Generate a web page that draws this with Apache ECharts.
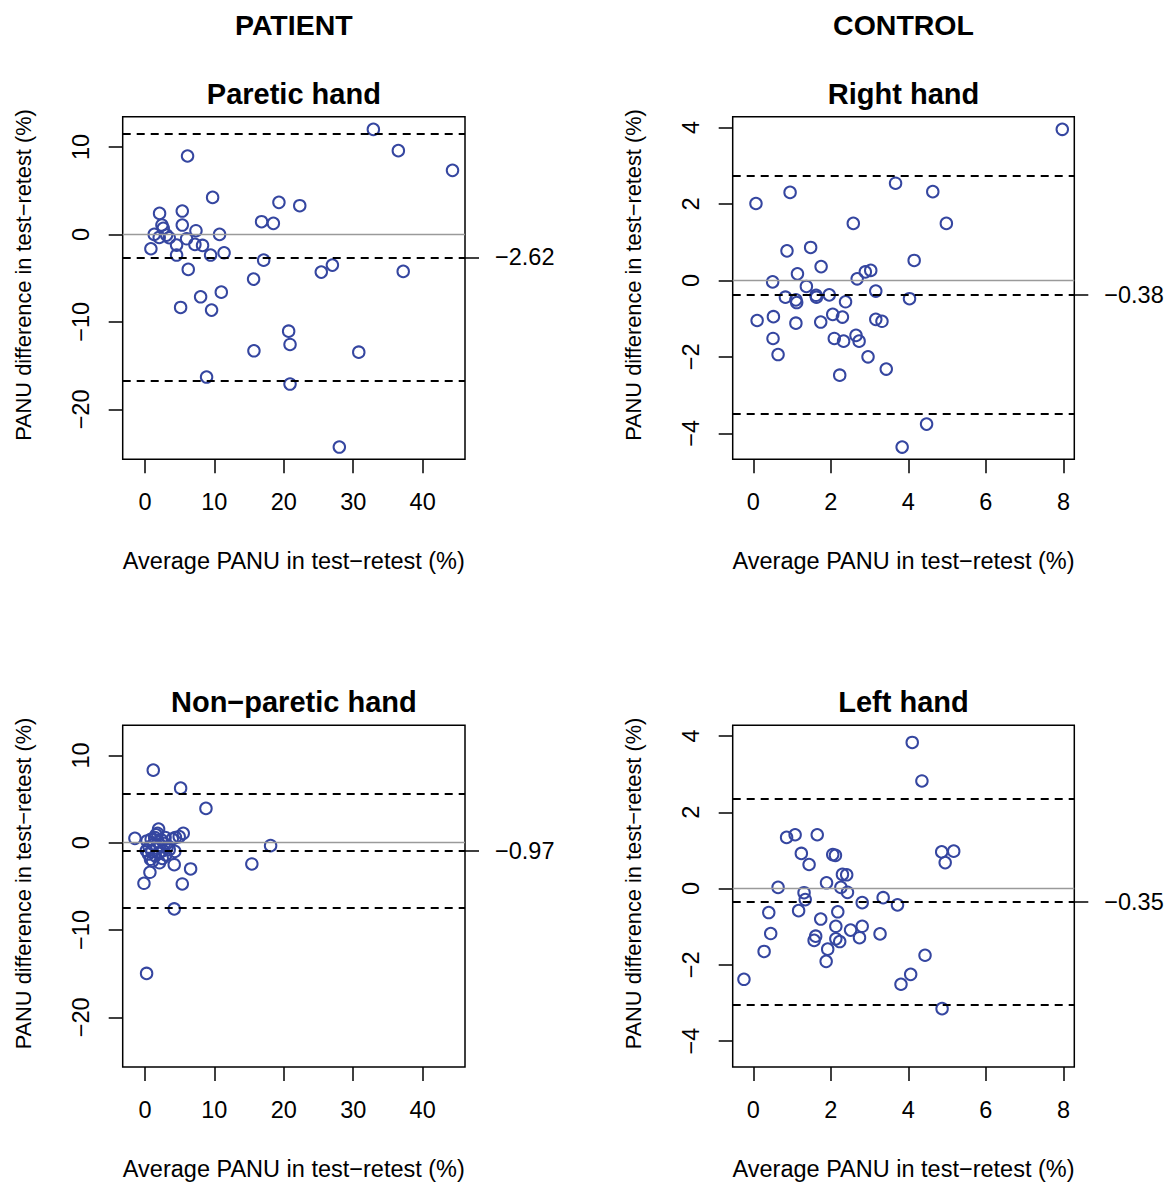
<!DOCTYPE html>
<html>
<head>
<meta charset="utf-8">
<script src="https://cdn.jsdelivr.net/npm/echarts@6/dist/echarts.min.js"></script>
<style>
html,body{margin:0;padding:0;background:#fff;}
#chart{width:1175px;height:1182px;}
</style>
</head>
<body>
<div id="chart"></div>
<script>
// ---------- DATA ----------
const pareticHand = [
  [32.9,12.0],[36.5,9.57],[44.3,7.32],[6.14,8.96],[9.75,4.23],[19.3,3.66],[22.3,3.28],
  [16.8,1.45],[18.5,1.26],[2.11,2.40],[5.38,2.67],[5.38,1.07],[2.45,1.07],[2.64,0.69],
  [7.35,0.42],[1.34,0.0],[2.06,-0.34],[3.12,-0.08],[3.5,-0.38],[6.0,-0.5],[10.75,0.0],
  [0.86,-1.64],[4.56,-1.22],[7.2,-1.14],[8.3,-1.26],[4.56,-2.36],[9.46,-2.36],[11.4,-2.1],
  [17.1,-2.94],[6.24,-4.0],[15.65,-5.11],[25.4,-4.31],[27.0,-3.51],[37.2,-4.23],[11.0,-6.6],
  [8.02,-7.13],[5.14,-8.35],[9.6,-8.65],[20.7,-11.06],[20.9,-12.58],[15.7,-13.3],[30.8,-13.46],
  [8.88,-16.3],[20.9,-17.1],[28.0,-24.3]
];
const nonPareticHand = [
  [1.2,8.31],[5.14,6.25],[8.79,3.93],[-1.44,0.5],[1.97,1.56],[1.82,1.07],[5.52,1.07],
  [4.94,0.69],[3.94,0.42],[18.1,-0.34],[15.4,-2.44],[4.22,-2.52],[6.58,-3.01],[0.72,-3.39],
  [-0.14,-4.65],[5.38,-4.73],[4.22,-7.59],[0.24,-14.98],
  [0.3,0.2],[0.6,-0.5],[0.9,0.4],[1.0,-1.0],[1.2,-0.2],[1.4,0.6],[1.5,-1.5],[1.7,-0.6],
  [1.9,0.1],[2.0,-1.2],[2.2,-0.3],[2.4,0.3],[2.5,-1.8],[2.6,-0.9],[2.8,-0.1],[3.0,-1.4],
  [3.2,-0.5],[0.5,-1.3],[0.8,-1.9],[1.1,-2.1],[3.5,-0.8],[2.1,-2.3],[1.6,0.9],[0.2,-0.9],
  [2.9,0.6],[4.3,-1.0],[4.4,0.6]
];
const rightHand = [
  [7.97,3.95],[0.07,2.01],[0.95,2.30],[3.67,2.54],[4.63,2.32],[4.98,1.49],[2.58,1.49],
  [1.48,0.86],[0.87,0.77],[4.15,0.52],[1.75,0.36],[1.14,0.17],[0.50,-0.04],[1.37,-0.16],
  [2.89,0.22],[3.03,0.26],[2.68,0.04],[0.83,-0.44],[1.10,-0.51],[1.12,-0.58],[1.62,-0.39],
  [1.63,-0.44],[1.96,-0.38],[2.38,-0.56],[3.16,-0.28],[4.03,-0.48],[0.10,-1.05],[0.52,-0.95],
  [1.10,-1.12],[1.74,-1.09],[2.05,-0.89],[2.30,-0.96],[3.16,-1.02],[3.32,-1.07],[0.51,-1.52],
  [0.64,-1.94],[2.09,-1.52],[2.33,-1.59],[2.65,-1.44],[2.73,-1.59],[2.96,-2.0],[3.43,-2.32],
  [2.23,-2.48],[4.47,-3.76],[3.84,-4.36]
];
const leftHand = [
  [4.10,3.83],[4.35,2.82],[0.86,1.34],[1.08,1.41],[1.65,1.41],[1.24,0.92],[1.44,0.63],
  [2.05,0.89],[2.12,0.87],[4.86,0.96],[5.17,0.98],[4.95,0.68],[2.30,0.37],[2.41,0.36],
  [1.89,0.15],[0.64,0.03],[2.26,0.03],[2.43,-0.10],[1.31,-0.11],[1.34,-0.29],[2.81,-0.37],
  [3.35,-0.24],[3.72,-0.43],[0.40,-0.63],[1.17,-0.58],[2.18,-0.61],[1.74,-0.80],[2.13,-0.99],
  [2.81,-0.99],[2.51,-1.09],[0.45,-1.18],[3.27,-1.19],[1.61,-1.25],[1.57,-1.36],[2.13,-1.32],
  [2.23,-1.39],[2.74,-1.29],[0.28,-1.65],[1.92,-1.59],[1.88,-1.91],[4.43,-1.75],[4.06,-2.25],
  [3.81,-2.51],[-0.24,-2.38],[4.87,-3.15]
];
// mean difference, upper and lower limits of agreement
const pareticLines = [-2.62, 11.53, -16.77];
const nonPareticLines = [-0.97, 5.6, -7.5];
const rightLines = [-0.38, 2.73, -3.49];
const leftLines = [-0.35, 2.36, -3.06];

const panelTitles = ['Paretic hand', 'Right hand', 'Non\u2212paretic hand', 'Left hand'];
const groupTitles = ['PATIENT', 'CONTROL'];
const patientXTicks = [0, 10, 20, 30, 40];
const patientYTicks = [-20, -10, 0, 10];
const controlXTicks = [0, 2, 4, 6, 8];
const controlYTicks = [-4, -2, 0, 2, 4];
const xTitle = 'Average PANU in test\u2212retest (%)';
const yTitle = 'PANU difference in test\u2212retest (%)';

// ---------- LAYOUT ----------
const FONT = '"Liberation Sans", Arial, Helvetica, sans-serif';
const FS = 23.5;
const fmt = v => String(v).replace('-', '\u2212');
const grids = [
  {left: 122.7, top: 116.7, width: 342.3, height: 342.6},
  {left: 732.7, top: 116.7, width: 341.6, height: 342.6},
  {left: 122.7, top: 725.3, width: 342.3, height: 342.4},
  {left: 732.7, top: 725.3, width: 341.6, height: 342.4}
];
const patientRange = {xmin: -3.2, xmax: 46.1, ymin: -25.7, ymax: 13.45};
const controlRange = {xmin: -0.53, xmax: 8.28, ymin: -4.68, ymax: 4.28};
const panels = [
  {data: pareticHand, lines: pareticLines, range: patientRange, xt: patientXTicks, yt: patientYTicks},
  {data: rightHand, lines: rightLines, range: controlRange, xt: controlXTicks, yt: controlYTicks},
  {data: nonPareticHand, lines: nonPareticLines, range: patientRange, xt: patientXTicks, yt: patientYTicks},
  {data: leftHand, lines: leftLines, range: controlRange, xt: controlXTicks, yt: controlYTicks}
];

const tickStyle = {lineStyle: {color: '#000', width: 1.5}, length: 14, inside: false};
const labelText = {color: '#000', fontSize: FS, fontFamily: FONT};
const noLine = {show: false, onZero: false};

const xAxes = [], yAxes = [], series = [], graphics = [];
panels.forEach((p, i) => {
  xAxes.push({
    type: 'value', gridIndex: i, min: p.range.xmin, max: p.range.xmax, position: 'bottom',
    axisLine: noLine, splitLine: {show: false},
    axisTick: Object.assign({show: true, customValues: p.xt}, tickStyle),
    axisLabel: Object.assign({show: true, customValues: p.xt, margin: 31, formatter: fmt}, labelText),
    name: xTitle, nameLocation: 'middle', nameGap: 90,
    nameTextStyle: {color: '#000', fontSize: FS, fontFamily: FONT}
  });
  yAxes.push({
    type: 'value', gridIndex: i, min: p.range.ymin, max: p.range.ymax, position: 'left',
    axisLine: noLine, splitLine: {show: false},
    axisTick: Object.assign({show: true, customValues: p.yt}, tickStyle),
    axisLabel: Object.assign({show: true, customValues: p.yt, margin: 30, rotate: 90, formatter: fmt}, labelText)
  });
  series.push({
    type: 'scatter', xAxisIndex: i, yAxisIndex: i, data: p.data,
    symbol: 'circle', symbolSize: 11.5,
    itemStyle: {color: 'rgba(0,0,0,0)', borderColor: '#3546a0', borderWidth: 2, opacity: 1},
    emphasis: {disabled: true},
    markLine: {
      silent: true, symbol: ['none', 'none'], label: {show: false}, animation: false,
      data: [
        {yAxis: 0, lineStyle: {type: 'solid', color: '#9a9a9a', width: 1.3}},
        {yAxis: p.lines[0], lineStyle: {type: [8, 6], color: '#000', width: 2}},
        {yAxis: p.lines[1], lineStyle: {type: [8, 6], color: '#000', width: 2}},
        {yAxis: p.lines[2], lineStyle: {type: [8, 6], color: '#000', width: 2}}
      ]
    }
  });
  const g = grids[i];
  graphics.push({
    type: 'text', x: g.left + g.width / 2, y: g.top - 23,
    style: {text: panelTitles[i], fontSize: 29, fontWeight: 'bold', fontFamily: FONT,
            fill: '#000', align: 'center', verticalAlign: 'middle'}
  });
  // y-axis title (rotated)
  graphics.push({
    type: 'text', x: g.left - 99, y: g.top + g.height / 2 - 13, rotation: Math.PI / 2,
    style: {text: yTitle, fontSize: 21.8, fontFamily: FONT,
            fill: '#000', align: 'center', verticalAlign: 'middle'}
  });
});
// right-side axes showing the mean difference
panels.forEach((p, i) => {
  const m = [p.lines[0]];
  yAxes.push({
    type: 'value', gridIndex: i, min: p.range.ymin, max: p.range.ymax, position: 'right',
    axisLine: noLine, splitLine: {show: false},
    axisTick: Object.assign({show: true, customValues: m}, tickStyle),
    axisLabel: Object.assign({show: true, customValues: m, margin: 30, formatter: v => fmt(v.toFixed(2))}, labelText)
  });
});
groupTitles.forEach((t, j) => {
  const g = grids[j];
  graphics.push({
    type: 'text', x: g.left + g.width / 2, y: 25,
    style: {text: t, fontSize: 28.5, fontWeight: 'bold', fontFamily: FONT,
            fill: '#000', align: 'center', verticalAlign: 'middle'}
  });
});

const chart = echarts.init(document.getElementById('chart'), null, {renderer: 'svg'});
chart.setOption({
  backgroundColor: '#fff',
  animation: false,
  grid: grids.map(g => Object.assign({show: true, borderColor: '#000', borderWidth: 1.5, backgroundColor: 'rgba(0,0,0,0)'}, g)),
  xAxis: xAxes,
  yAxis: yAxes,
  series: series,
  graphic: graphics
});
</script>
</body>
</html>
